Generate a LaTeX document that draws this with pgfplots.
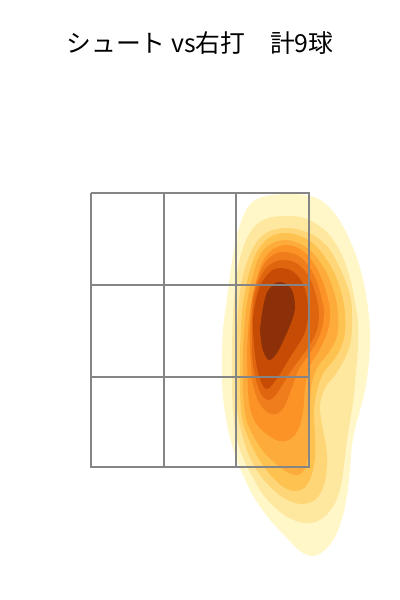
\documentclass[border=0pt]{standalone}
\usepackage{pgfplots}
\pgfplotsset{compat=1.18}
\usepackage{fontspec}
\setmainfont{Noto Sans CJK JP}
\definecolor{L1}{HTML}{FFF7C8}
\definecolor{L2}{HTML}{FEE89F}
\definecolor{L3}{HTML}{FED677}
\definecolor{L4}{HTML}{FEC250}
\definecolor{L5}{HTML}{FDAB3B}
\definecolor{L6}{HTML}{FB9327}
\definecolor{L7}{HTML}{F07D1C}
\definecolor{L8}{HTML}{E0650F}
\definecolor{L9}{HTML}{C64C05}
\definecolor{L10}{HTML}{8B3008}
\definecolor{gridc}{HTML}{858585}
\begin{document}
\begin{tikzpicture}
\begin{axis}[
  width=200pt, height=300pt, scale only axis,
  xmin=0, xmax=400, ymin=0, ymax=600, y dir=reverse,
  hide axis, clip=false,
  every axis plot/.append style={draw=none, smooth, tension=0.6},
]
\path[draw=none] (rel axis cs:0,0) rectangle (rel axis cs:1,1);
\addplot[fill=L1] coordinates {(222,360)(223,330)(227,298)(232,261)(238,231)(248,207)(262,197)(285,194)(305,195)(322,201)(338,218)(352,245)(362,275)(368,308)(370,335)(369,360)(366,385)(362,403)(356,425)(352,445)(350,470)(347,495)(343,515)(336,535)(325,550)(313,556)(300,551)(287,538)(272,522)(255,499)(240,468)(230,438)(224,405)(222,380)(222,360)};
\addplot[fill=L2] coordinates {(232,350)(233,313)(236,282)(240,258)(247,238)(256,225)(268,218)(285,216)(300,217)(315,223)(332,238)(347,268)(357,313)(358,345)(356,372)(354,395)(351,415)(347,440)(344,465)(341,485)(335,503)(324,517)(311,523)(296,521)(280,512)(264,496)(251,474)(242,455)(236,435)(233,410)(232,385)(232,350)};
\addplot[fill=L3] coordinates {(236,350)(238,313)(241,285)(247,262)(256,243)(268,232)(285,228)(300,230)(315,236)(330,250)(343,275)(350,295)(352,313)(351,340)(345,358)(335,375)(325,388)(320,405)(322,425)(326,445)(327,465)(324,485)(316,499)(303,504)(290,501)(278,494)(263,479)(251,460)(243,438)(238,415)(236,390)(236,350)};
\addplot[fill=L4] coordinates {(240,350)(242,313)(245,292)(250,270)(258,250)(270,237)(285,233)(300,236)(315,245)(330,265)(340,288)(345,313)(344,338)(336,357)(324,372)(317,390)(314,410)(315,435)(315,458)(311,477)(304,488)(294,491)(282,486)(268,472)(257,456)(248,437)(242,418)(240,390)(240,350)};
\addplot[fill=L5] coordinates {(243,350)(245,320)(248,297)(253,275)(260,255)(271,244)(285,240)(298,243)(312,252)(325,270)(334,292)(338,313)(337,336)(329,352)(317,368)(311,388)(310,415)(309,445)(306,466)(298,475)(287,472)(275,463)(263,451)(253,435)(246,418)(243,390)(243,350)};
\addplot[fill=L6] coordinates {(247,350)(249,320)(252,300)(257,278)(263,261)(272,250)(285,245)(298,248)(310,258)(320,275)(327,295)(330,313)(328,330)(320,349)(310,366)(305,388)(303,412)(298,430)(289,440)(279,441)(268,435)(258,426)(251,412)(248,390)(247,350)};
\addplot[fill=L7] coordinates {(250,350)(250,330)(252,300)(257,280)(264,264)(273,255)(283,252)(297,255)(308,265)(317,282)(322,300)(324,313)(321,332)(312,350)(299,369)(291,390)(284,407)(276,414)(267,412)(259,402)(253,385)(251,365)(250,350)};
\addplot[fill=L8] coordinates {(252,350)(252,320)(254,298)(259,280)(268,266)(281,260)(296,263)(308,275)(315,292)(319,313)(316,333)(305,352)(293,368)(283,384)(275,396)(268,400)(261,394)(256,380)(253,365)(252,350)};
\addplot[fill=L9] coordinates {(254,345)(253,320)(256,300)(261,284)(270,272)(279,268)(292,271)(302,282)(307,298)(308,315)(305,332)(298,345)(289,359)(280,374)(272,385)(267,389)(262,384)(257,368)(254,345)};
\addplot[fill=L10] coordinates {(260,330)(262,313)(266,295)(271,287)(278,282)(288,285)(293,293)(295,307)(292,320)(285,337)(277,353)(270,360)(266,357)(262,347)(260,330)};
% strike zone grid
\addplot[draw=gridc, sharp plot, line width=0.75pt] coordinates {(91,193)(309,193)(309,467)(91,467)(91,193)};
\addplot[draw=gridc, sharp plot, line width=0.75pt] coordinates {(164,193)(164,467)};
\addplot[draw=gridc, sharp plot, line width=0.75pt] coordinates {(236,193)(236,467)};
\addplot[draw=gridc, sharp plot, line width=0.75pt] coordinates {(91,285)(309,285)};
\addplot[draw=gridc, sharp plot, line width=0.75pt] coordinates {(91,377)(309,377)};
\node[font=\fontsize{12.4}{15}\selectfont, anchor=center] at (axis cs:200,43) {シュート vs右打　計9球};
\end{axis}
\end{tikzpicture}
\end{document}
